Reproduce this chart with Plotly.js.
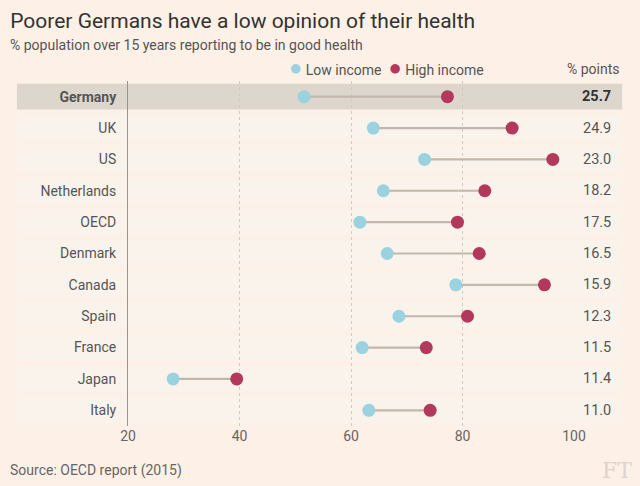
<!DOCTYPE html>
<html>
<head>
<meta charset="utf-8">
<script src="https://cdn.plot.ly/plotly-3.0.1.min.js"></script>
<style>html,body{margin:0;padding:0;background:#FDF0E6;}</style>
</head>
<body>
<div id="chart" style="width:640px;height:486px;"></div>
<script>
const countries = ["Germany","UK","US","Netherlands","OECD","Denmark","Canada","Spain","France","Japan","Italy"];
const lowIncome  = [51.6, 64.0, 73.2, 65.8, 61.6, 66.5, 78.8, 68.6, 62.0, 28.1, 63.2];
const highIncome = [77.3, 88.9, 96.2, 84.0, 79.1, 83.0, 94.7, 80.9, 73.5, 39.5, 74.2];
const gapLabels  = ["25.7","24.9","23.0","18.2","17.5","16.5","15.9","12.3","11.5","11.4","11.0"];
const xTicks = [20, 40, 60, 80, 100];

const FONT = "Roboto, 'Open Sans', sans-serif";
const LOW_C = "#9AD3DF", HIGH_C = "#B3395C";

// connector line trace
const lx = [], ly = [];
countries.forEach((c, i) => { lx.push(lowIncome[i], highIncome[i], null); ly.push(c, c, null); });

const traces = [
  {type:"scatter", mode:"lines", x:lx, y:ly, line:{color:"#C2B7AD", width:2.2}, hoverinfo:"skip", showlegend:false, cliponaxis:false},
  {type:"scatter", mode:"markers", name:"Low income", x:lowIncome, y:countries, marker:{color:LOW_C, size:13}, showlegend:false, cliponaxis:false},
  {type:"scatter", mode:"markers", name:"High income", x:highIncome, y:countries, marker:{color:HIGH_C, size:13}, showlegend:false, cliponaxis:false}
];

const shapes = countries.map((c, i) => ({
  type:"rect", xref:"paper", yref:"y", layer:"below",
  x0:-0.249, x1:1.108, y0:i-0.41, y1:i+0.41,
  fillcolor: i === 0 ? "#DDD6CD" : "#FAF3EC", line:{width:0}
}));

const annotations = [
  {xref:"paper", yref:"paper", x:-0.27, y:1.104, xanchor:"left", yanchor:"middle", showarrow:false,
   text:"% population over 15 years reporting to be in good health", font:{family:FONT, size:14, color:"#555"}},
  {xref:"paper", yref:"paper", x:0.356, y:1.04, xanchor:"left", yanchor:"middle", showarrow:false,
   text:"<span style='color:"+LOW_C+";font-size:22px'>●</span> Low income  <span style='color:"+HIGH_C+";font-size:22px'>●</span> High income",
   font:{family:FONT, size:14, color:"#555"}},
  {xref:"paper", yref:"paper", x:1.044, y:1.035, xanchor:"center", yanchor:"middle", showarrow:false,
   text:"% points", font:{family:FONT, size:14, color:"#555"}},
  {xref:"paper", yref:"paper", x:-0.27, y:-0.12, yanchor:"middle", xanchor:"left", showarrow:false, yshift:-3,
   text:"Source: OECD report (2015)", font:{family:FONT, size:14, color:"#666"}},
  {xref:"paper", yref:"paper", x:1.135, y:-0.12, yanchor:"middle", xanchor:"right", showarrow:false, yshift:-3,
   text:"FT", font:{family:"'DejaVu Serif', 'Liberation Serif', serif", size:22, color:"#DED4CC"}}
];
countries.forEach((c, i) => {
  annotations.push({xref:"paper", yref:"y", x:1.088, y:c, xanchor:"right", yanchor:"middle", showarrow:false,
    text: i === 0 ? "<b>"+gapLabels[i]+"</b>" : gapLabels[i],
    font:{family:FONT, size:14.5, color: i === 0 ? "#333" : "#555"}});
});

const layout = {
  width:640, height:486,
  paper_bgcolor:"#FDF0E6", plot_bgcolor:"rgba(0,0,0,0)",
  margin:{l:128, r:66, t:81, b:60},
  title:{text:"Poorer Germans have a low opinion of their health", x:0.016, xanchor:"left", y:0.958, yanchor:"middle",
         font:{family:FONT, size:21, color:"#333"}},
  xaxis:{range:[20,100], tickvals:xTicks, ticktext:xTicks.map(String), showgrid:true, griddash:"dot",
         gridcolor:"#D3CAC2", gridwidth:1, zeroline:false, showline:false, ticks:"",
         tickfont:{family:FONT, size:14, color:"#666"}, fixedrange:true},
  yaxis:{type:"category", categoryarray:countries, categoryorder:"array", autorange:false, range:[10.5,-0.5],
         tickvals:countries, ticktext:countries.map((c,i)=> i===0 ? "<b>"+c+"</b>" : c),
         showgrid:false, zeroline:false, showline:true, linecolor:"#9A948E", linewidth:1, ticks:"",
         ticklabelstandoff:8, tickfont:{family:FONT, size:14, color:"#555"}, fixedrange:true},
  shapes:shapes, annotations:annotations, showlegend:false, hovermode:false
};

Plotly.newPlot("chart", traces, layout, {displayModeBar:false, staticPlot:true});
</script>
</body>
</html>
